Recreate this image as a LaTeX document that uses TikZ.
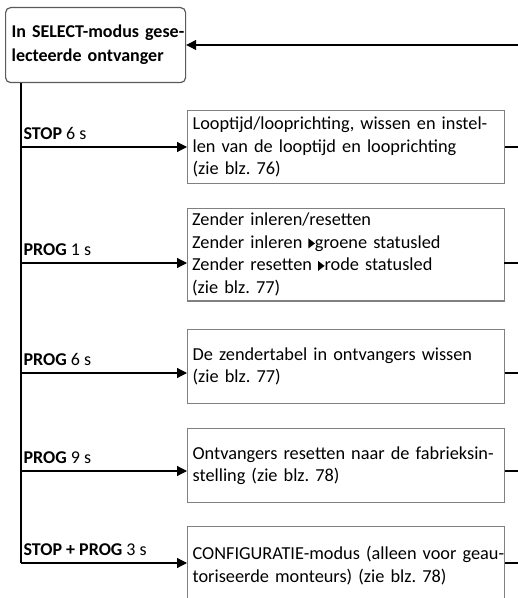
\documentclass[tikz,border=0pt]{standalone}
\usepackage{fontspec}
\setmainfont{Carlito}
\usepackage{tikz}
\usetikzlibrary{arrows.meta,positioning}
\definecolor{boxGrey}{RGB}{128,128,128}
\definecolor{selGrey}{RGB}{90,90,90}
\newcommand{\ledpijl}{\tikz[baseline=0pt]\fill (0bp,0bp) -- (0bp,10bp) -- (6.5bp,5bp) -- cycle;}
\frenchspacing

\begin{document}
\begin{tikzpicture}[x=1bp, y=-1bp, line width=1.2bp,
    every node/.style={font=\fontsize{18bp}{22.5bp}\selectfont},
    sel/.style={draw=selGrey, rounded corners=5bp, align=left, anchor=north west,
      font=\fontsize{18bp}{24bp}\selectfont\bfseries, text width=168bp, inner xsep=6bp,
      minimum height=75bp},
    stap/.style={draw=boxGrey, align=left, anchor=north west, text width=307bp,
      font=\fontsize{18.3bp}{22.5bp}\selectfont, inner sep=5bp, minimum height=#1},
    pijl/.style={-{Triangle[length=10bp,width=10bp]}},
    knop/.style={inner sep=0pt}]
  \useasboundingbox (0,0) rectangle (518,598);

  \node[sel] (sel) at (5,7) {\mbox{In SELECT-modus gese-}\\\mbox{lecteerde ontvanger}};

  % stappen
  \node[stap=73bp] (b1) at (187,110) {Looptijd/looprichting, wissen en instel-\\len van de looptijd en looprichting\\(zie blz. 76)};
  \node[stap=89bp] (b2) at (187,208) {Zender inleren/resetten\\Zender inleren \ledpijl groene statusled\\Zender resetten \ledpijl rode statusled\\(zie blz. 77)};
  \node[stap=74bp] (b3) at (187,329) {De zendertabel in ontvangers wissen\\(zie blz. 77)};
  \node[stap=74bp] (b4) at (187,428) {\mbox{Ontvangers resetten naar de fabrieksin-}\\stelling (zie blz. 78)};
  \node[stap=78bp] (b5) at (187,526) {\mbox{CONFIGURATIE-modus (alleen voor geau-}\\toriseerde monteurs) (zie blz. 78)};

  \foreach \n/\y/\lab in {1/147/{\textbf{STOP} 6 s}, 2/263/{\textbf{PROG} 1 s},
      3/373/{\textbf{PROG} 6 s}, 4/471/{\textbf{PROG} 9 s}, 5/563/{\textbf{STOP + PROG} 3 s}} {
    \coordinate (s\n) at (21,\y);
    \coordinate (r\n) at (518.7,\y);
    \node[knop, above right=7bp and 2bp of s\n] (k\n) {\lab};
    \draw[pijl] (s\n) -- (s\n -| b\n.west);
    \draw (b\n.east |- s\n) -- (r\n);
  }

  % stam en terugloop
  \draw (sel.south west -| s1) -- (s5);
  \coordinate (rt) at (518.7,45);
  \draw (r5) -- (rt);
  \draw[pijl] (rt) -- (rt -| sel.east);
\end{tikzpicture}
\end{document}
